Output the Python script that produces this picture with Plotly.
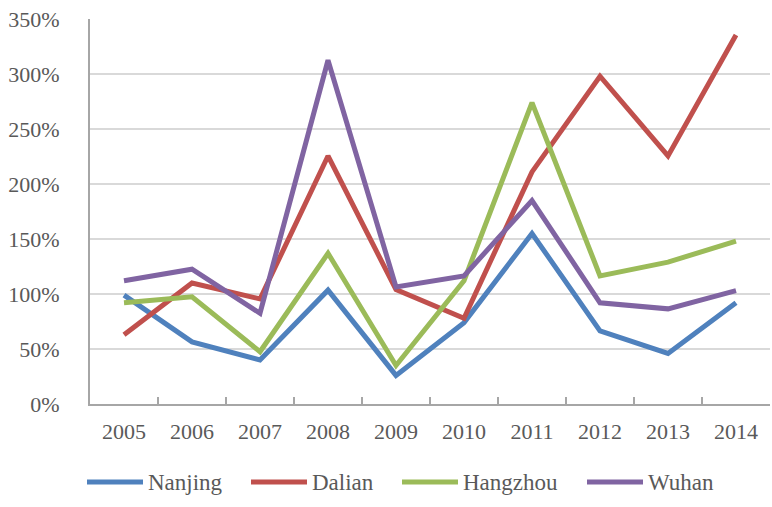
import plotly.graph_objects as go

years = ["2005", "2006", "2007", "2008", "2009", "2010", "2011", "2012", "2013", "2014"]

nanjing = [0.99, 0.565, 0.40, 1.035, 0.26, 0.74, 1.55, 0.665, 0.46, 0.92]
dalian = [0.63, 1.10, 0.955, 2.255, 1.04, 0.78, 2.11, 2.98, 2.255, 3.355]
hangzhou = [0.92, 0.975, 0.475, 1.37, 0.35, 1.12, 2.74, 1.165, 1.29, 1.48]
wuhan = [1.12, 1.225, 0.825, 3.125, 1.065, 1.165, 1.85, 0.92, 0.865, 1.03]

series = [
    ("Nanjing", nanjing, "#4F81BD"),
    ("Dalian", dalian, "#C0504D"),
    ("Hangzhou", hangzhou, "#9BBB59"),
    ("Wuhan", wuhan, "#8064A2"),
]

W, H = 772, 507
ML, MR, MT, MB = 90, 2, 19, 103
PW, PH = W - ML - MR, H - MT - MB
FONT = "Liberation Serif"
TXT = "#595959"

fig = go.Figure()
for name, vals, color in series:
    fig.add_trace(go.Scatter(
        x=years, y=vals, name=name, mode="lines",
        line=dict(color=color, width=5),
        showlegend=False,
    ))

# Legend drawn below the plot: long line sample followed by the series name
legend_pos = [87, 251, 402, 587]  # left edge of each sample, px
sample_len = 56
legend_y = 482
for (name, vals, color), px in zip(series, legend_pos):
    yp = (MT + PH - legend_y) / PH
    fig.add_shape(
        type="line", xref="paper", yref="paper",
        x0=(px - ML) / PW, x1=(px + sample_len - ML) / PW, y0=yp, y1=yp,
        line=dict(color=color, width=5),
    )
    fig.add_annotation(
        xref="paper", yref="paper", x=(px + sample_len + 3 - ML) / PW, y=yp,
        text=name, showarrow=False, xanchor="left", yanchor="middle",
        font=dict(family=FONT, size=23, color=TXT),
    )

fig.update_layout(
    width=W, height=H,
    margin=dict(l=ML, r=MR, t=MT, b=MB, pad=0, autoexpand=False),
    paper_bgcolor="white", plot_bgcolor="white",
    font=dict(family=FONT, size=22, color=TXT),
    showlegend=False,
)
fig.update_xaxes(
    type="category", range=[-0.5, 9.5],
    tickson="boundaries", ticks="inside", ticklen=7,
    tickwidth=1.5, tickcolor="#A6A6A6",
    showline=True, linecolor="#A6A6A6", linewidth=2,
    showgrid=False, zeroline=False, automargin=False,
    tickfont=dict(family=FONT, size=22, color=TXT),
    ticklabelstandoff=7,
)
fig.update_yaxes(
    range=[0, 3.5], dtick=0.5, tick0=0, tickformat=".0%",
    showline=True, linecolor="#A6A6A6", linewidth=2,
    showgrid=True, gridcolor="#D9D9D9", gridwidth=1.5,
    zeroline=False, ticks="", automargin=False,
    tickfont=dict(family=FONT, size=22, color=TXT),
    ticklabelstandoff=24,
)

fig.write_html("out.html")
